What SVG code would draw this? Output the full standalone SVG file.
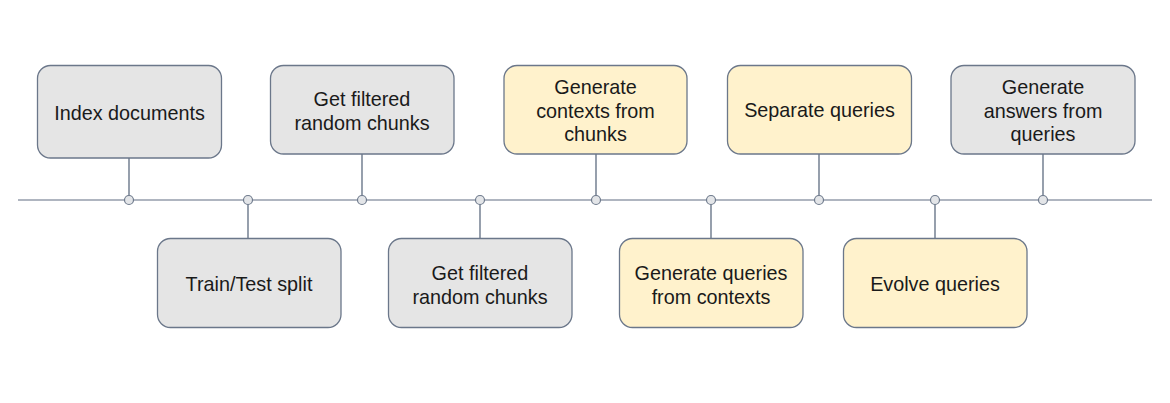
<svg xmlns="http://www.w3.org/2000/svg" width="1170" height="403" viewBox="0 0 1170 403">
<style>
.box{stroke:#6b778a;stroke-width:1.3}
.gray{fill:#e5e5e5}
.yellow{fill:#fff2cc}
.t{font-family:"Liberation Sans",Arial,sans-serif;font-size:19.8px;fill:#1a1a1a;text-anchor:middle}
.line{stroke:#5f6c80;stroke-width:1.3;fill:none}
.axis{stroke:#949dab;stroke-width:1.5}
.dot{fill:#e3e5e8;stroke:#6f7b8d;stroke-width:1.2}
</style>
<rect width="1170" height="403" fill="#ffffff"/>
<g id="connectors">
<line class="axis" x1="18" y1="200" x2="1152" y2="200"/>
<line class="line" x1="129" y1="158" x2="129" y2="200"/>
<line class="line" x1="248" y1="200" x2="248" y2="238"/>
<line class="line" x1="362" y1="154" x2="362" y2="200"/>
<line class="line" x1="480" y1="200" x2="480" y2="238"/>
<line class="line" x1="596" y1="154" x2="596" y2="200"/>
<line class="line" x1="711" y1="200" x2="711" y2="238"/>
<line class="line" x1="819" y1="154" x2="819" y2="200"/>
<line class="line" x1="935" y1="200" x2="935" y2="238"/>
<line class="line" x1="1043" y1="154" x2="1043" y2="200"/>
<circle class="dot" cx="129" cy="200" r="4.5"/>
<circle class="dot" cx="248" cy="200" r="4.5"/>
<circle class="dot" cx="362" cy="200" r="4.5"/>
<circle class="dot" cx="480" cy="200" r="4.5"/>
<circle class="dot" cx="596" cy="200" r="4.5"/>
<circle class="dot" cx="711" cy="200" r="4.5"/>
<circle class="dot" cx="819" cy="200" r="4.5"/>
<circle class="dot" cx="935" cy="200" r="4.5"/>
<circle class="dot" cx="1043" cy="200" r="4.5"/>
</g>
<g id="index-documents">
<rect class="box gray" x="37.5" y="65.5" width="184" height="92.5" rx="13"/>
<text class="t" x="129.5" y="119.5">Index documents</text>
</g>
<g id="train-test-split">
<rect class="box gray" x="157.5" y="238.5" width="183.5" height="89" rx="13"/>
<text class="t" x="249" y="290.5">Train/Test split</text>
</g>
<g id="get-filtered-1">
<rect class="box gray" x="270.5" y="65.5" width="183.5" height="88.5" rx="13"/>
<text class="t" x="362" y="105.5">Get filtered</text>
<text class="t" x="362" y="129.5">random chunks</text>
</g>
<g id="get-filtered-2">
<rect class="box gray" x="388.5" y="238.5" width="183.5" height="89" rx="13"/>
<text class="t" x="480" y="279.5">Get filtered</text>
<text class="t" x="480" y="303.5">random chunks</text>
</g>
<g id="generate-contexts">
<rect class="box yellow" x="504" y="65.5" width="183" height="88.5" rx="13"/>
<text class="t" x="595.5" y="93.5">Generate</text>
<text class="t" x="595.5" y="117.5">contexts from</text>
<text class="t" x="595.5" y="141">chunks</text>
</g>
<g id="generate-queries">
<rect class="box yellow" x="619.5" y="238.5" width="183.5" height="89" rx="13"/>
<text class="t" x="711" y="279.5">Generate queries</text>
<text class="t" x="711" y="303.5">from contexts</text>
</g>
<g id="separate-queries">
<rect class="box yellow" x="727.5" y="65.5" width="184" height="88.5" rx="13"/>
<text class="t" x="819.5" y="117">Separate queries</text>
</g>
<g id="evolve-queries">
<rect class="box yellow" x="843.5" y="238.5" width="183.5" height="89" rx="13"/>
<text class="t" x="935" y="290.5">Evolve queries</text>
</g>
<g id="generate-answers">
<rect class="box gray" x="951" y="65.5" width="184" height="88.5" rx="13"/>
<text class="t" x="1043" y="93.5">Generate</text>
<text class="t" x="1043" y="117.5">answers from</text>
<text class="t" x="1043" y="141">queries</text>
</g>
</svg>
